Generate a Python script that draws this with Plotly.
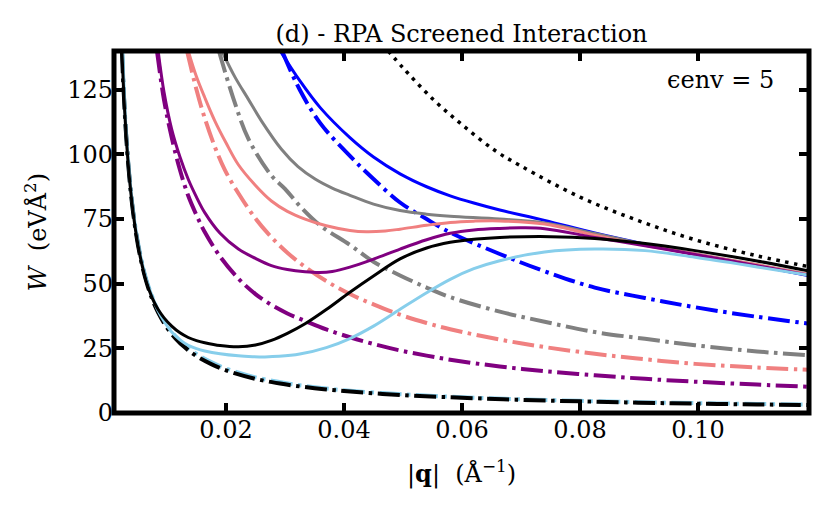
import plotly.graph_objects as go

# ---------------------------------------------------------------
# data: W (eV A^2) versus |q| (1/A)
# ---------------------------------------------------------------

# bare interaction (dotted)
q_bare = [0.0475, 0.05, 0.055, 0.06, 0.0656, 0.07, 0.08, 0.09, 0.0995, 0.11, 0.119]
w_bare = [140, 133.5, 121.5, 111.5, 101.5, 95.5, 83.5, 74.3, 67, 60.8, 56.5]

# blue
q_blue = [0.0292, 0.0325, 0.036, 0.041, 0.045, 0.0495, 0.054, 0.058, 0.062, 0.0664, 0.074, 0.0825, 0.091, 0.0995, 0.11, 0.119]
w_blue = [140, 128.5, 118, 106.5, 99, 92.5, 87.5, 84, 81.2, 78.5, 74.5, 69.6, 65.3, 61.4, 57, 53]
q_blue_dd = [0.0295, 0.0325, 0.036, 0.041, 0.045, 0.0495, 0.054, 0.058, 0.0664, 0.074, 0.0825, 0.091, 0.0995, 0.11, 0.119]
w_blue_dd = [140, 125, 112, 99.4, 90.5, 81.4, 75, 69.8, 61.5, 54.8, 48.5, 44.5, 40.9, 37.2, 34.5]

# gray
q_gray = [0.0193, 0.0215, 0.0238, 0.026, 0.0294, 0.0322, 0.0351, 0.038, 0.041, 0.045, 0.0495, 0.054, 0.058, 0.0664, 0.074, 0.0825, 0.091, 0.0995, 0.11, 0.119]
w_gray = [140, 130, 121.3, 113, 102, 95.3, 90.5, 87, 84.2, 80.8, 78.3, 76.9, 76.1, 75, 73.5, 69.4, 65.2, 61.5, 57.3, 53.5]
q_gray_dd = [0.0188, 0.0212, 0.0238, 0.0277, 0.03, 0.0325, 0.036, 0.041, 0.045, 0.0495, 0.054, 0.058, 0.0664, 0.074, 0.0825, 0.091, 0.0995, 0.11, 0.119]
w_gray_dd = [140, 122, 106, 91.8, 86.7, 80.1, 72.5, 65, 58.5, 53.2, 48.5, 44.8, 39.2, 35.3, 31.3, 28.7, 26.2, 23.8, 22.3]

# salmon
q_salmon = [0.0136, 0.015, 0.0164, 0.0181, 0.02, 0.0221, 0.025, 0.0277, 0.0304, 0.0334, 0.037, 0.041, 0.0438, 0.047, 0.0495, 0.054, 0.058, 0.062, 0.0664, 0.074, 0.0825, 0.091, 0.0995, 0.11, 0.119]
w_salmon = [140, 130, 122, 113, 104.5, 96, 88, 82, 78, 75, 72.4, 70.6, 70.1, 70.4, 71.1, 72.6, 73.7, 74.2, 74.3, 73.1, 68.8, 64.9, 61.5, 57.3, 53.5]
q_salmon_dd = [0.0134, 0.015, 0.0164, 0.0181, 0.0198, 0.0221, 0.025, 0.0277, 0.0304, 0.0334, 0.037, 0.041, 0.045, 0.0495, 0.054, 0.058, 0.0664, 0.074, 0.0825, 0.091, 0.0995, 0.11, 0.119]
w_salmon_dd = [140, 125, 114, 103, 94, 85, 75.2, 68, 62, 56.5, 51, 46, 42, 38, 34.8, 32.4, 28.4, 25.5, 22.9, 20.8, 19, 17.6, 16.7]

# purple
q_purple = [0.0085, 0.0095, 0.0108, 0.0122, 0.0136, 0.015, 0.0164, 0.019, 0.0221, 0.025, 0.0277, 0.0304, 0.0334, 0.0359, 0.038, 0.041, 0.045, 0.0495, 0.054, 0.058, 0.062, 0.0664, 0.07, 0.074, 0.0825, 0.091, 0.0995, 0.11, 0.119]
w_purple = [140, 124, 109.7, 99, 90.4, 83.5, 77.5, 69.5, 63.4, 59.8, 57, 55.5, 54.6, 54.3, 54.7, 56.4, 59.5, 63.4, 67, 69.5, 70.8, 71.4, 71.6, 71.3, 67.9, 64.7, 61.3, 57, 53.2]
q_purple_dd = [0.0083, 0.0095, 0.0108, 0.0122, 0.0136, 0.015, 0.0164, 0.019, 0.0221, 0.025, 0.0277, 0.0304, 0.0334, 0.037, 0.041, 0.045, 0.0495, 0.054, 0.058, 0.0664, 0.074, 0.0825, 0.091, 0.0995, 0.11, 0.119]
w_purple_dd = [140, 121, 106.5, 94, 84, 76.5, 70, 60.5, 52, 46, 41.8, 38.5, 35.6, 32.3, 29.3, 26.7, 24.2, 22.2, 20.6, 18, 16.2, 14.6, 13.2, 12.1, 11, 10.1]

# black
q_black = [0.00236, 0.0026, 0.003, 0.0035, 0.004, 0.0047, 0.0055, 0.0065, 0.0075, 0.0085, 0.0095, 0.0108, 0.0122, 0.0136, 0.015, 0.0164, 0.019, 0.0221, 0.025, 0.0277, 0.0304, 0.0334, 0.037, 0.041, 0.045, 0.0495, 0.054, 0.058, 0.0625, 0.0664, 0.075, 0.0825, 0.09, 0.0995, 0.11, 0.119]
w_black = [140, 127, 110, 94.3, 82.5, 70.2, 60, 50.8, 44.4, 40, 36.8, 33.6, 31, 29.2, 28, 27.2, 26.1, 25.6, 26.3, 28.1, 30.8, 34.5, 40, 46.7, 53, 59.6, 63.8, 66, 67.3, 67.9, 68.2, 67.5, 65.8, 62.8, 58.8, 54.8]
q_black_dd = [0.00236, 0.0026, 0.003, 0.0035, 0.004, 0.0047, 0.0055, 0.0065, 0.0075, 0.0085, 0.01, 0.0115, 0.013, 0.015, 0.0175, 0.02, 0.025, 0.03, 0.035, 0.04, 0.05, 0.06, 0.07, 0.08, 0.09, 0.1, 0.11, 0.119]
w_black_dd = [140, 127, 110, 94.3, 82.5, 70.2, 60, 50.8, 44, 38.8, 33, 28.7, 25.4, 22, 18.9, 16.5, 13.2, 11.1, 9.6, 8.5, 6.9, 5.9, 5.1, 4.5, 4.0, 3.6, 3.3, 3.1]

# light blue
q_sky = [0.0025, 0.003, 0.0035, 0.004, 0.0047, 0.0055, 0.0065, 0.0075, 0.0085, 0.0095, 0.0108, 0.0122, 0.0136, 0.015, 0.0164, 0.019, 0.0221, 0.0245, 0.0266, 0.029, 0.0325, 0.037, 0.041, 0.045, 0.0495, 0.054, 0.058, 0.062, 0.0664, 0.074, 0.0825, 0.091, 0.0995, 0.11, 0.119]
w_sky = [140, 112, 96, 84, 71.5, 61, 51.8, 45, 39.5, 35.5, 31.3, 28.3, 26.2, 24.9, 24, 22.9, 22.1, 21.8, 21.7, 21.9, 22.8, 25.3, 28.8, 33.6, 40.1, 46.5, 51.7, 55.8, 58.9, 62.3, 63.4, 62.8, 60.2, 56.5, 53.2]
q_sky_dd = [0.0024, 0.0026, 0.003, 0.0035, 0.004, 0.0047, 0.0055, 0.0065, 0.0075, 0.0085, 0.01, 0.0115, 0.013, 0.015, 0.0175, 0.02, 0.025, 0.03, 0.035, 0.04, 0.05, 0.06, 0.07, 0.08, 0.09, 0.1, 0.11, 0.119]
w_sky_dd = [140, 128, 110.5, 95, 83, 71, 61, 51.5, 45, 39.5, 33.8, 29.5, 26.2, 22.8, 19.7, 17.2, 13.8, 11.6, 10, 8.8, 7.2, 6.1, 5.3, 4.7, 4.2, 3.8, 3.5, 3.3]

x_ticks = [0.02, 0.04, 0.06, 0.08, 0.10]
x_tick_labels = ["0.02", "0.04", "0.06", "0.08", "0.10"]
y_ticks = [0, 25, 50, 75, 100, 125]

#######################################
# Plotting ############################
#######################################

serif = "DejaVu Serif"
dashdot = "22px,5.5px,3.5px,5.5px"
dotted = "3.5px,5.5px"

fig = go.Figure()

def add_curve(q, w, color, dash="solid", width=3):
    fig.add_trace(go.Scatter(
        x=q, y=w, mode="lines",
        line=dict(color=color, width=width, dash=dash, shape="spline", smoothing=1.0),
        showlegend=False, hoverinfo="skip",
    ))

add_curve(q_bare, w_bare, "black", dotted, 3.5)
add_curve(q_blue_dd, w_blue_dd, "#0000FF", dashdot, 4)
add_curve(q_gray_dd, w_gray_dd, "#808080", dashdot, 4)
add_curve(q_salmon_dd, w_salmon_dd, "#F08080", dashdot, 4)
add_curve(q_purple_dd, w_purple_dd, "#800080", dashdot, 4)
add_curve(q_sky_dd, w_sky_dd, "#87CEEB", dashdot, 4)
add_curve(q_black_dd, w_black_dd, "black", dashdot, 4)
add_curve(q_blue, w_blue, "#0000FF")
add_curve(q_gray, w_gray, "#808080")
add_curve(q_salmon, w_salmon, "#F08080")
add_curve(q_purple, w_purple, "#800080")
add_curve(q_sky, w_sky, "#87CEEB")
add_curve(q_black, w_black, "black")

axis_style = dict(
    ticks="inside", ticklen=10, tickwidth=4, tickcolor="black",
    mirror="ticks", showgrid=False, zeroline=False, showline=False,
    tickfont=dict(family=serif, size=24, color="black"),
)

fig.update_xaxes(range=[0.001017, 0.11881], tickvals=x_ticks, ticktext=x_tick_labels, **axis_style)
fig.update_yaxes(range=[0, 140], tickvals=y_ticks, **axis_style)

# frame drawn centred on the plot edges
fig.add_shape(type="rect", xref="paper", yref="paper", x0=0, x1=1, y0=0, y1=1,
              line=dict(color="black", width=5), layer="above")

fig.add_annotation(text="<i>W</i>  (eVÅ<sup>2</sup>)", xref="paper", yref="paper",
                   x=-0.112, y=0.5, xanchor="center", yanchor="middle",
                   textangle=-90, showarrow=False,
                   font=dict(family=serif, size=24, color="black"))
fig.add_annotation(text="|<b>q</b>|  (Å<sup>−1</sup>)", xref="paper", yref="paper",
                   x=0.5, y=-0.165, xanchor="center", yanchor="middle", showarrow=False,
                   font=dict(family=serif, size=24, color="black"))
fig.add_annotation(text="ϵenv = 5", xref="paper", yref="paper",
                   x=0.872, y=0.92, xanchor="center", yanchor="middle", showarrow=False,
                   font=dict(family=serif, size=24, color="black"))

# the page body adds an 8px offset, so the figure is 8px smaller
fig.update_layout(
    width=822, height=505,
    margin=dict(l=106, r=21, t=43, b=100),
    plot_bgcolor="white", paper_bgcolor="white",
    title=dict(text="(d) - RPA Screened Interaction", x=0.5, xref="paper",
               y=1 - 26 / 505, yanchor="middle",
               font=dict(family=serif, size=24, color="black")),
)

fig.write_html("out.html")
